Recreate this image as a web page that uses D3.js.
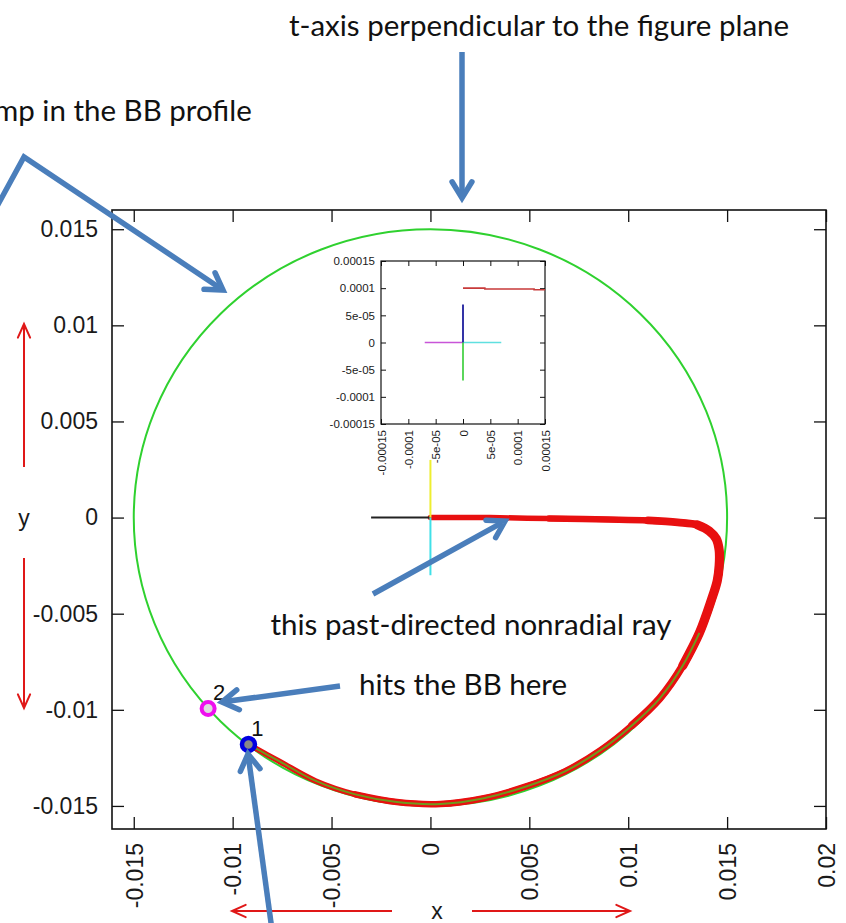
<!DOCTYPE html>
<html><head><meta charset="utf-8">
<script src="https://cdn.jsdelivr.net/npm/d3@7"></script>
<style>body{margin:0;background:#fff;overflow:hidden}</style>
</head><body>
<svg id="c" width="846" height="923"></svg>
<script>
// ---------- data ----------
const xTicks = [-0.015,-0.01,-0.005,0,0.005,0.01,0.015,0.02];
const xTickLabels = ["-0.015","-0.01","-0.005","0","0.005","0.01","0.015","0.02"];
const yTicks = [-0.015,-0.01,-0.005,0,0.005,0.01,0.015];
const yTickLabels = ["-0.015","-0.01","-0.005","0","0.005","0.01","0.015"];
const bbRadius = 0.015;
const rayX = [0,0.003,0.006,0.009,0.011,0.0125,0.0135,0.0141,0.01445,0.0146,0.0146,0.0145,0.0142,0.0136,0.01276,0.0116,0.0102,0.0086,0.0068,0.0048,0.0027,0.0005,-0.0017,-0.0038,-0.0058,-0.0076,-0.0092];
const rayY = [0,0,-0.00005,-0.0001,-0.00015,-0.00025,-0.00038,-0.0007,-0.0011,-0.0017,-0.0025,-0.0033,-0.0043,-0.006,-0.0077,-0.0094,-0.0108,-0.0121,-0.0132,-0.0140,-0.0146,-0.0149,-0.0148,-0.0144,-0.0137,-0.0127,-0.0118];
const blackX = [-0.003,0], blackY = [0,0];
const yellowX = [0,0], yellowY = [0,0.003];
const cyanX = [0,0], cyanY = [0,-0.003];
const point1 = [-0.0092,-0.0118];
const point2 = [-0.01124,-0.00993];
const insetTicks = [-0.00015,-0.0001,-0.00005,0,0.00005,0.0001,0.00015];
const insetTickLabels = ["-0.00015","-0.0001","-5e-05","0","5e-05","0.0001","0.00015"];
const insetRedX = [0,0.00004,0.00004,0.00013,0.00013,0.00015];
const insetRedY = [0.0001,0.0001,0.0000985,0.0000985,0.000097,0.000097];
const insetBlueX = [0,0], insetBlueY = [0,0.00007];
const insetGreenX = [0,0], insetGreenY = [0,-0.00007];
const insetMagentaX = [-0.00007,0], insetMagentaY = [0,0];
const insetCyanX = [0,0.00007], insetCyanY = [0,0];

// ---------- layout ----------
const svg = d3.select("#c");
const x = d3.scaleLinear().domain([-0.0161,0.02]).range([112,826]);
const y = d3.scaleLinear().domain([-0.0162,0.016]).range([829,210]);
const xi = d3.scaleLinear().domain([-0.00015,0.00015]).range([381,545]);
const yi = d3.scaleLinear().domain([-0.00015,0.00015]).range([424,261]);
const tickFont = "'Liberation Sans', Arial, sans-serif";
const annFont = "Lato, 'Open Sans', sans-serif";
const annBlue = "#4a7ebb";
const tickSize = 23;

function styleAxis(g){ g.select(".domain").remove(); g.selectAll("line").attr("stroke","#111").attr("stroke-width",1.3); g.selectAll("text").attr("fill","#1a1a1a"); }
const gx = svg.append("g").attr("transform","translate(0,829)")
  .call(d3.axisBottom(x).tickValues(xTicks).tickSize(-12).tickFormat((d,i)=>xTickLabels[i]))
  .attr("font-family",tickFont).attr("font-size",tickSize);
styleAxis(gx);
gx.selectAll("text").attr("transform","rotate(-90)").attr("x",-14).attr("y",0).attr("dy","0.36em").attr("text-anchor","end");
const gxt = svg.append("g").attr("transform","translate(0,210)")
  .call(d3.axisTop(x).tickValues(xTicks).tickSize(-12).tickFormat(""));
styleAxis(gxt);
const gy = svg.append("g").attr("transform","translate(112,0)")
  .call(d3.axisLeft(y).tickValues(yTicks).tickSize(-12).tickPadding(14).tickFormat((d,i)=>yTickLabels[i]))
  .attr("font-family",tickFont).attr("font-size",tickSize);
styleAxis(gy);
const gyr = svg.append("g").attr("transform","translate(826,0)")
  .call(d3.axisRight(y).tickValues(yTicks).tickSize(-12).tickFormat(""));
styleAxis(gyr);
svg.append("rect").attr("x",112).attr("y",210).attr("width",714).attr("height",619)
  .attr("fill","none").attr("stroke","#111").attr("stroke-width",1.6);

svg.append("text").attr("x",24).attr("y",y(0)).attr("dy","0.36em").attr("text-anchor","middle")
  .attr("font-family",tickFont).attr("font-size",tickSize).attr("fill","#1a1a1a").text("y");
svg.append("text").attr("x",437).attr("y",911).attr("dy","0.36em").attr("text-anchor","middle")
  .attr("font-family",tickFont).attr("font-size",tickSize).attr("fill","#1a1a1a").text("x");

// ---------- marks ----------
const plot = svg.append("g");
plot.append("ellipse").attr("cx",x(0)).attr("cy",y(0))
  .attr("rx",x(bbRadius)-x(0)).attr("ry",y(0)-y(bbRadius))
  .attr("fill","none").attr("stroke","#2fd12f").attr("stroke-width",2);
const rayPts = rayX.map((v,i)=>[x(v),y(rayY[i])]);
const smooth = d3.line().curve(d3.curveCatmullRom.alpha(0.5));
// layered strokes give the ray its tapering thickness
[[0,rayPts.length,5.5],[2,24,6.5],[4,17,7.8],[6,15,9.2]].forEach(([a,b,w])=>{
  plot.append("path").attr("d",smooth(rayPts.slice(a,b))).attr("fill","none").attr("stroke","#e81010")
    .attr("stroke-width",w).attr("stroke-linecap","round").attr("stroke-linejoin","round");
});
plot.append("path").attr("d",smooth(rayPts.slice(13))).attr("fill","none")
  .attr("stroke","#6f9a1c").attr("stroke-width",2);
const ln = d3.line();
plot.append("path").attr("d",ln(blackX.map((v,i)=>[x(v),y(blackY[i])]))).attr("stroke","#222").attr("stroke-width",2).attr("fill","none");
plot.append("path").attr("d",ln(yellowX.map((v,i)=>[x(v),y(yellowY[i])]))).attr("stroke","#eeee30").attr("stroke-width",2).attr("fill","none");
plot.append("path").attr("d",ln(cyanX.map((v,i)=>[x(v),y(cyanY[i])]))).attr("stroke","#40e0e8").attr("stroke-width",2).attr("fill","none");
plot.append("circle").attr("cx",x(point2[0])).attr("cy",y(point2[1])).attr("r",6.5).attr("fill","#ddd").attr("stroke","#ee10ee").attr("stroke-width",4);
plot.append("circle").attr("cx",x(point1[0])).attr("cy",y(point1[1])).attr("r",6.5).attr("fill","#888").attr("stroke","#0000e0").attr("stroke-width",4.5);
svg.append("text").attr("x",x(point2[0])+11).attr("y",y(point2[1])-16).attr("dy","0.36em").attr("text-anchor","middle")
  .attr("font-family",tickFont).attr("font-size",22).attr("fill","#111").text("2");
svg.append("text").attr("x",x(point1[0])+9).attr("y",y(point1[1])-16).attr("dy","0.36em").attr("text-anchor","middle")
  .attr("font-family",tickFont).attr("font-size",22).attr("fill","#111").text("1");

// ---------- inset ----------
const ins = svg.append("g");
ins.append("rect").attr("x",381).attr("y",261).attr("width",164).attr("height",163).attr("fill","#fff").attr("stroke","none");
const ix = ins.append("g").attr("transform","translate(0,424)")
  .call(d3.axisBottom(xi).tickValues(insetTicks).tickSize(-5).tickFormat((d,i)=>insetTickLabels[i]))
  .attr("font-family",tickFont).attr("font-size",11.5);
styleAxis(ix);
ix.selectAll("text").attr("transform","rotate(-90)").attr("x",-6).attr("y",0).attr("dy","0.36em").attr("text-anchor","end");
const ixt = ins.append("g").attr("transform","translate(0,261)")
  .call(d3.axisTop(xi).tickValues(insetTicks).tickSize(-5).tickFormat(""));
styleAxis(ixt);
const iy = ins.append("g").attr("transform","translate(381,0)")
  .call(d3.axisLeft(yi).tickValues(insetTicks).tickSize(-5).tickPadding(6).tickFormat((d,i)=>insetTickLabels[i]))
  .attr("font-family",tickFont).attr("font-size",11.5);
styleAxis(iy);
const iyr = ins.append("g").attr("transform","translate(545,0)")
  .call(d3.axisRight(yi).tickValues(insetTicks).tickSize(-5).tickFormat(""));
styleAxis(iyr);
ins.selectAll("line").attr("stroke-width",1);
ins.append("rect").attr("x",381).attr("y",261).attr("width",164).attr("height",163).attr("fill","none").attr("stroke","#111").attr("stroke-width",1.2);
function iline(xs,ys,col){ ins.append("path").attr("d",ln(xs.map((v,i)=>[xi(v),yi(ys[i])]))).attr("fill","none").attr("stroke",col).attr("stroke-width",1.6); }
iline(insetRedX,insetRedY,"#c83a3a");
iline(insetMagentaX,insetMagentaY,"#c855d8");
iline(insetCyanX,insetCyanY,"#5fe0e0");
iline(insetBlueX,insetBlueY,"#000090");
iline(insetGreenX,insetGreenY,"#33cc33");

// ---------- annotations ----------
function arrow(pts,col,w,L,ang){
  const n=pts.length, [x1,y1]=pts[n-2], [x2,y2]=pts[n-1];
  const a=Math.atan2(y2-y1,x2-x1);
  const end=[x2-w*0.6*Math.cos(a), y2-w*0.6*Math.sin(a)];
  const p=pts.slice(0,n-1).concat([end]);
  svg.append("path").attr("d",d3.line()(p)).attr("fill","none").attr("stroke",col).attr("stroke-width",w).attr("stroke-linejoin","miter");
  const h1=[x2-L*Math.cos(a-ang), y2-L*Math.sin(a-ang)], h2=[x2-L*Math.cos(a+ang), y2-L*Math.sin(a+ang)];
  svg.append("path").attr("d",`M${h1[0]},${h1[1]}L${x2},${y2}L${h2[0]},${h2[1]}`).attr("fill","none")
    .attr("stroke",col).attr("stroke-width",w).attr("stroke-linejoin","miter").attr("stroke-linecap","round");
}
arrow([[24,467],[24,324]],"#e01818",2,15,0.42);
arrow([[24,558],[24,708]],"#e01818",2,15,0.42);
arrow([[392,911],[232,911]],"#e01818",2,15,0.42);
arrow([[472,911],[630,911]],"#e01818",2,15,0.42);
arrow([[462,52],[462,198]],annBlue,5.5,19,0.55);
arrow([[-5,210],[24,157],[223,290]],annBlue,5.5,19,0.55);
arrow([[373,594],[505,521]],annBlue,5.5,19,0.55);
arrow([[340,686],[222,702]],annBlue,5.5,19,0.55);
arrow([[272,930],[248,754]],annBlue,5.5,19,0.55);

function ann(t,xp,yp,anchor){ svg.append("text").attr("x",xp).attr("y",yp).attr("text-anchor",anchor)
  .attr("font-family",annFont).attr("font-size",29.5).attr("fill","#111").text(t); }
ann("t-axis perpendicular to the figure plane",539,36,"middle");
ann("mp in the BB profile",-6,121,"start");
ann("this past-directed nonradial ray",471,635,"middle");
ann("hits the BB here",463,695,"middle");
</script>
</body></html>
